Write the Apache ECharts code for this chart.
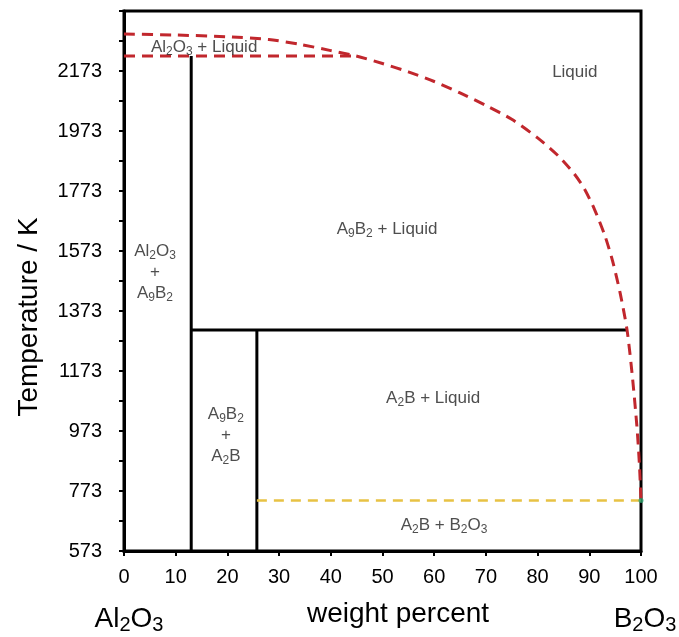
<!DOCTYPE html>
<html>
<head>
<meta charset="utf-8">
<script src="https://cdn.jsdelivr.net/npm/echarts@6/dist/echarts.min.js"></script>
<style>
  html, body { margin: 0; padding: 0; background: #fff; }
  #chart { width: 679px; height: 637px; }
</style>
</head>
<body>
<div id="chart"></div>
<script>
// Temperature axis starts at 573 K; values are plotted as offsets from it
const T_BASE = 573;
const T_TOP = 2373;

// Liquidus (red dashed): [wt% B2O3, T / K]
const liquidus = [
  [0, 2296], [10, 2293], [20, 2287], [28, 2278], [34, 2262], [40, 2241],
  [44.9, 2223], [50, 2198], [55, 2170], [60, 2138], [65, 2100], [70, 2058],
  [75, 2012], [80, 1950], [84, 1890], [87, 1832], [89, 1782], [91, 1712],
  [93, 1625], [94.5, 1540], [96, 1430], [97.3, 1310], [98.3, 1160], [99.2, 990],
  [99.7, 860], [100, 741]
];
// Al2O3 + liquid lower boundary (red dashed, horizontal)
const solidusAl2O3 = [[0, 2223], [44.9, 2223]];
// Phase boundaries (black)
const lineA9B2 = [[13, 573], [13, 2223]];
const lineA2B = [[25.7, 573], [25.7, 1310]];
const peritectic = [[13, 1310], [97.3, 1310]];
// Eutectic line (yellow dashed) and eutectic point
const eutectic = [[25.7, 741], [100, 741]];
const eutecticPoint = [[100, 741]];

const xTicks = [0, 10, 20, 30, 40, 50, 60, 70, 80, 90, 100];
const yTickLabels = [573, 773, 973, 1173, 1373, 1573, 1773, 1973, 2173];

// Phase-field labels: [wt%, T, rich text]
const fieldLabels = [
  [15.5, 2253, '{n|Al}{s|2}{n|O}{s|3}{n| + Liquid}'],
  [87.2, 2170, '{n|Liquid}'],
  [50.9, 1646, '{n|A}{s|9}{n|B}{s|2}{n| + Liquid}'],
  [6.0, 1503, '{n|Al}{s|2}{n|O}{s|3}\n{n|+}\n{n|A}{s|9}{n|B}{s|2}'],
  [19.7, 960, '{n|A}{s|9}{n|B}{s|2}\n{n|+}\n{n|A}{s|2}{n|B}'],
  [59.8, 1083, '{n|A}{s|2}{n|B + Liquid}'],
  [61.9, 660, '{n|A}{s|2}{n|B + B}{s|2}{n|O}{s|3}']
];

const toPlot = pts => pts.map(p => [p[0], p[1] - T_BASE]);

const FONT = '"Liberation Sans", Arial, sans-serif';

const chart = echarts.init(document.getElementById('chart'), null, { renderer: 'canvas' });

const blackLine = (data) => ({
  type: 'line', data: toPlot(data), showSymbol: false, silent: true,
  lineStyle: { color: '#000', width: 3 }, z: 3
});

chart.setOption({
  animation: false,
  backgroundColor: '#fff',
  grid: {
    left: 124, right: 38, top: 11, bottom: 86,
    show: true, borderColor: '#000', borderWidth: 3, backgroundColor: 'transparent'
  },
  xAxis: {
    type: 'value', min: 0, max: 100, interval: 10,
    axisLine: { show: true, onZero: false, lineStyle: { color: '#000', width: 3 } },
    axisTick: { show: true, inside: false, length: 5, lineStyle: { color: '#000', width: 2 } },
    axisLabel: {
      margin: 16, color: '#000', fontSize: 20, fontFamily: FONT,
      formatter: v => xTicks.includes(v) ? String(v) : ''
    },
    splitLine: { show: false }
  },
  yAxis: {
    type: 'value', min: 0, max: T_TOP - T_BASE, interval: 100,
    axisLine: { show: true, onZero: false, lineStyle: { color: '#000', width: 3 } },
    axisTick: { show: true, inside: false, length: 5, lineStyle: { color: '#000', width: 2 } },
    axisLabel: {
      margin: 22, color: '#000', fontSize: 20, fontFamily: FONT,
      formatter: v => yTickLabels.includes(v + T_BASE) ? String(v + T_BASE) : ''
    },
    splitLine: { show: false }
  },
  series: [
    blackLine(lineA9B2),
    blackLine(lineA2B),
    blackLine(peritectic),
    {
      type: 'line', data: toPlot(liquidus), showSymbol: false, silent: true,
      smooth: 0.25,
      lineStyle: { color: '#c1272d', width: 3, type: [11, 7] }, z: 4
    },
    {
      type: 'line', data: toPlot(solidusAl2O3), showSymbol: false, silent: true,
      lineStyle: { color: '#c1272d', width: 3, type: [11, 7] }, z: 4
    },
    {
      type: 'line', data: toPlot(eutectic), showSymbol: false, silent: true,
      lineStyle: { color: '#e8c244', width: 2.5, type: [10, 7] }, z: 4
    },
    {
      type: 'scatter', data: toPlot(eutecticPoint), symbolSize: 5, silent: true,
      itemStyle: { color: '#2aa06e' }, z: 5
    },
    {
      type: 'scatter', silent: true, symbolSize: 0, z: 6,
      data: fieldLabels.map(d => ({ value: [d[0], d[1] - T_BASE], text: d[2] })),
      label: {
        show: true, position: 'inside', align: 'center', verticalAlign: 'middle',
        formatter: p => p.data.text,
        rich: {
          n: { fontSize: 17, fontFamily: FONT, color: '#222', lineHeight: 21 },
          s: { fontSize: 12, fontFamily: FONT, color: '#222', lineHeight: 21, verticalAlign: 'bottom', padding: [8, 0, 0, 0] }
        }
      }
    }
  ],
  graphic: [
    {
      type: 'text', x: 29, y: 317, rotation: Math.PI / 2,
      style: { text: 'Temperature / K', fill: '#000', font: '28px ' + FONT, align: 'center', verticalAlign: 'middle' }
    },
    {
      type: 'text', x: 398, y: 614,
      style: { text: 'weight percent', fill: '#000', font: '28px ' + FONT, align: 'center', verticalAlign: 'middle' }
    },
    {
      type: 'text', x: 129, y: 619,
      style: {
        text: '{n|Al}{s|2}{n|O}{s|3}', align: 'center', verticalAlign: 'middle',
        rich: {
          n: { fontSize: 28, fontFamily: FONT, fill: '#000', lineHeight: 32 },
          s: { fontSize: 20, fontFamily: FONT, fill: '#000', lineHeight: 32, verticalAlign: 'bottom', padding: [12, 0, 0, 0] }
        }
      }
    },
    {
      type: 'text', x: 645, y: 619,
      style: {
        text: '{n|B}{s|2}{n|O}{s|3}', align: 'center', verticalAlign: 'middle',
        rich: {
          n: { fontSize: 28, fontFamily: FONT, fill: '#000', lineHeight: 32 },
          s: { fontSize: 20, fontFamily: FONT, fill: '#000', lineHeight: 32, verticalAlign: 'bottom', padding: [12, 0, 0, 0] }
        }
      }
    }
  ]
});
</script>
</body>
</html>
